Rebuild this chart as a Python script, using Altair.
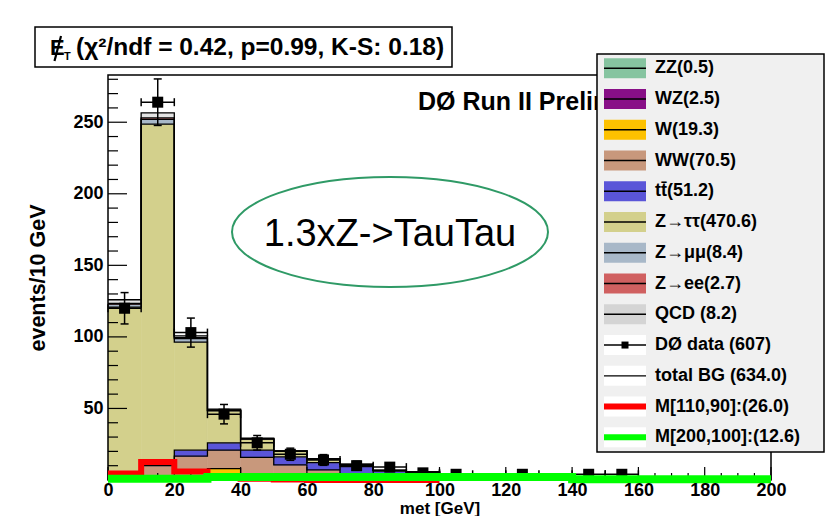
import math
import altair as alt
import pandas as pd

# ---------------- data ----------------
bin_edges = [0, 10, 20, 30, 40, 50, 60, 70, 80, 90, 100, 110, 120, 130, 140, 150, 160, 170, 180, 190, 200]

components = ["ZZ", "WZ", "W", "WW", "ttbar", "Ztautau", "Zmumu", "Zee", "QCD"]
zz    = [0.0, 0.0, 0.05, 0.1, 0.1, 0.1, 0.05, 0.05, 0.03, 0.02, 0.0, 0.0, 0.0, 0.0, 0.0, 0.0, 0.0, 0.0, 0.0, 0.0]
wz    = [0.05, 0.1, 0.3, 0.4, 0.4, 0.4, 0.3, 0.2, 0.15, 0.1, 0.05, 0.05, 0.0, 0.0, 0.0, 0.0, 0.0, 0.0, 0.0, 0.0]
w     = [0.5, 0.5, 2.0, 7.5, 3.0, 2.0, 1.5, 1.0, 0.8, 0.5, 0.0, 0.0, 0.0, 0.0, 0.0, 0.0, 0.0, 0.0, 0.0, 0.0]
ww    = [1.0, 9.4, 14.3, 12.9, 12.3, 8.0, 5.2, 2.3, 1.5, 1.0, 0.8, 0.5, 0.4, 0.3, 0.2, 0.1, 0.0, 0.0, 0.0, 0.0]
ttbar = [0.2, 0.5, 4.2, 5.1, 5.1, 5.7, 5.1, 5.8, 3.8, 3.6, 2.5, 2.0, 1.5, 1.2, 1.0, 0.8, 0.6, 0.5, 0.4, 0.3]
ztt   = [119.1, 238.2, 75.5, 22.3, 7.6, 3.9, 2.6, 1.5, 0.5, 0.5, 0.8, 0.3, 0.2, 0.1, 0.1, 0.0, 0.0, 0.0, 0.0, 0.0]
zmm   = [2.0, 3.3, 2.5, 0.4, 0.2, 0.0, 0.0, 0.0, 0.0, 0.0, 0.0, 0.0, 0.0, 0.0, 0.0, 0.0, 0.0, 0.0, 0.0, 0.0]
zee   = [0.6, 1.0, 0.6, 0.3, 0.2, 0.0, 0.0, 0.0, 0.0, 0.0, 0.0, 0.0, 0.0, 0.0, 0.0, 0.0, 0.0, 0.0, 0.0, 0.0]
qcd   = [2.5, 3.5, 1.2, 0.5, 0.3, 0.2, 0.0, 0.0, 0.0, 0.0, 0.0, 0.0, 0.0, 0.0, 0.0, 0.0, 0.0, 0.0, 0.0, 0.0]

data_counts = [120, 264, 103, 46, 26, 18, 14, 10, 9, 5, 4, 0, 4, 0, 4, 4, 0, 0, 0, 0]

sig_m110_90 = [4.5, 12.5, 6.0, 1.5, 0.8, 0.3, 0.0, 0.0, 0.0, 0.0]
sig_m200_100 = [0.8, 0.8, 0.8, 2.1, 2.1, 2.1, 2.1, 2.1, 2.1, 2.1, 2.1, 2.1, 2.1, 2.1, 0.6, 0.6, 0.6, 0.6, 0.6, 0.6]

x_tick_labels = [0, 20, 40, 60, 80, 100, 120, 140, 160, 180, 200]
y_tick_labels = [50, 100, 150, 200, 250]

legend_labels = ["ZZ(0.5)", "WZ(2.5)", "W(19.3)", "WW(70.5)", "tt\u0304(51.2)",
                 "Z\u2192\u03c4\u03c4(470.6)", "Z\u2192\u03bc\u03bc(8.4)", "Z\u2192ee(2.7)",
                 "QCD (8.2)", "D\u00d8 data (607)", "total BG (634.0)",
                 "M[110,90]:(26.0)", "M[200,100]:(12.6)"]

# ---------------- styles ----------------
comp_colors = ["#86c4a0", "#880f87", "#fdc100", "#c8987c", "#5a55d8",
               "#d3d08c", "#a8b8c8", "#d06060", "#e4e4e4"]
FONT = "Liberation Sans"
W, H = 663, 405
YMAX = 283.0

xscale = alt.Scale(domain=[0, 200], nice=False, zero=False)
yscale = alt.Scale(domain=[0, YMAX], nice=False, zero=False)
xaxis = alt.Axis(values=x_tick_labels, title="met [GeV]", ticks=False, tickSize=0, domain=False,
                 grid=False, labelFont=FONT, labelFontWeight="bold", labelFontSize=18,
                 labelColor="black", labelPadding=1, labelFlush=False, labelOverlap=False,
                 titleFont=FONT, titleFontWeight="bold", titleFontSize=17, titleColor="black",
                 titleX=W / 2, titleY=28, titleBaseline="middle", titleAlign="center", zindex=1)
yaxis = alt.Axis(values=y_tick_labels, title="events/10 GeV", ticks=False, tickSize=0, domain=False,
                 grid=False, labelFont=FONT, labelFontWeight="bold", labelFontSize=18,
                 labelColor="black", labelPadding=5, labelFlush=False, labelOverlap=False,
                 titleFont=FONT, titleFontWeight="bold", titleFontSize=21.5, titleColor="black",
                 titleX=-70, titleY=H / 2, titleAngle=270, titleBaseline="middle",
                 titleAlign="center", zindex=1)


def X(f):
    return alt.X(f, type="quantitative", scale=xscale, axis=xaxis)


def Y(f):
    return alt.Y(f, type="quantitative", scale=yscale, axis=yaxis)


def yv(px):
    """pixel (from plot top) -> y data units (for legend layout)"""
    return (H - px) / H * YMAX


one = pd.DataFrame({"d": [0]})

# ---------------- build tables ----------------
comp_vals = [zz, wz, w, ww, ttbar, ztt, zmm, zee, qcd]
nb = len(bin_edges) - 1
rects, steps = [], []
cum = [0.0] * nb
for name, vals, col in zip(components, comp_vals, comp_colors):
    new = [c + v for c, v in zip(cum, vals)]
    for i in range(nb):
        if vals[i] > 0:
            rects.append(dict(lo=bin_edges[i], hi=bin_edges[i + 1], y0=cum[i], y1=new[i], col=col))
    for i in range(nb):
        steps.append(dict(comp=name, x=bin_edges[i], v=new[i]))
    steps.append(dict(comp=name, x=bin_edges[nb], v=new[nb - 1]))
    cum = new
rect_df = pd.DataFrame(rects)
step_df = pd.DataFrame(steps)

pts = []
for i, n in enumerate(data_counts):
    if n > 0:
        e = math.sqrt(n)
        pts.append(dict(c=(bin_edges[i] + bin_edges[i + 1]) / 2, x0=bin_edges[i], x1=bin_edges[i + 1],
                        n=n, elo=n - e, ehi=n + e))
pts_df = pd.DataFrame(pts)

red_df = pd.DataFrame({"x": bin_edges[:len(sig_m110_90) + 1], "v": sig_m110_90 + [sig_m110_90[-1]]})
green_df = pd.DataFrame({"x": bin_edges, "v": sig_m200_100 + [sig_m200_100[-1]]})

y_major = pd.DataFrame({"v": [0, 50, 100, 150, 200, 250]})
y_minor = pd.DataFrame({"v": [v for v in range(10, 281, 10) if v % 50]})
x_major = pd.DataFrame({"v": list(range(0, 201, 20))})
x_minor = pd.DataFrame({"v": [v for v in range(5, 200, 5) if v % 20]})

# legend table
sw_fill = comp_colors[:8] + ["#d4d4d4"] + ["white"] * 4
ln_col = ["black"] * 11 + ["#ff0000", "#00ff00"]
ln_w = [1.5] * 10 + [1.2, 6, 6]
leg = []
for i, lab in enumerate(legend_labels):
    yc = -6.7 + 30.75 * i
    leg.append(dict(label=lab, yc=yv(yc), yt=yv(yc - 10), yb=yv(yc + 10),
                    fill=sw_fill[i], lcol=ln_col[i], lw=ln_w[i]))
leg_df = pd.DataFrame(leg)

# ---------------- layers ----------------
layers = []

# stacked background histograms
layers.append(alt.Chart(rect_df).mark_rect(strokeWidth=0.6).encode(
    x=X("lo"), x2=alt.X2("hi"), y=Y("y0"), y2=alt.Y2("y1"),
    fill=alt.Fill("col:N", scale=None), stroke=alt.Stroke("col:N", scale=None)))
layers.append(alt.Chart(step_df).mark_line(interpolate="step-after", color="black", strokeWidth=1.3).encode(
    x=X("x"), y=Y("v"), detail="comp:N"))

# data with error bars
layers.append(alt.Chart(pts_df).mark_rule(color="black", strokeWidth=1.5).encode(
    x=X("c"), y=Y("elo"), y2=alt.Y2("ehi")))
layers.append(alt.Chart(pts_df).mark_rule(color="black", strokeWidth=1.5).encode(
    x=X("x0"), x2=alt.X2("x1"), y=Y("n")))
for f in ["elo", "ehi"]:
    layers.append(alt.Chart(pts_df).mark_tick(orient="horizontal", size=8, thickness=1.5, color="black",
                                              opacity=1).encode(x=X("c"), y=Y(f)))
for f in ["x0", "x1"]:
    layers.append(alt.Chart(pts_df).mark_tick(orient="vertical", size=8, thickness=1.5, color="black",
                                              opacity=1).encode(x=X(f), y=Y("n")))
layers.append(alt.Chart(pts_df).mark_square(size=121, color="black", opacity=1).encode(x=X("c"), y=Y("n")))

# inward ticks
layers.append(alt.Chart(y_major).mark_rule(color="black", strokeWidth=1.2).encode(
    y=Y("v"), x=alt.value(0), x2=alt.value(19)))
layers.append(alt.Chart(y_minor).mark_rule(color="black", strokeWidth=1.2).encode(
    y=Y("v"), x=alt.value(0), x2=alt.value(10)))
layers.append(alt.Chart(x_major).mark_rule(color="black", strokeWidth=1.2).encode(
    x=X("v"), y=alt.value(H), y2=alt.value(H - 13)))
layers.append(alt.Chart(x_minor).mark_rule(color="black", strokeWidth=1.2).encode(
    x=X("v"), y=alt.value(H), y2=alt.value(H - 7)))

# frame
layers.append(alt.Chart(one).mark_rect(fillOpacity=0, stroke="black", strokeWidth=1.5).encode(
    x=alt.value(0), x2=alt.value(W), y=alt.value(0), y2=alt.value(H)))

# signal curves
layers.append(alt.Chart(red_df).mark_line(interpolate="step-after", color="#ff0000", strokeWidth=6).encode(
    x=X("x"), y=Y("v")))
layers.append(alt.Chart(green_df).mark_line(interpolate="step-after", color="#00ff00", strokeWidth=8).encode(
    x=X("x"), y=Y("v")))

# annotations
ry = 0.348
k = 0.5523
ell = (f"M -1 0 C -1 {-k*ry:.4f} {-k:.4f} {-ry} 0 {-ry} C {k:.4f} {-ry} 1 {-k*ry:.4f} 1 0 "
       f"C 1 {k*ry:.4f} {k:.4f} {ry} 0 {ry} C {-k:.4f} {ry} -1 {k*ry:.4f} -1 0 Z")
layers.append(alt.Chart(one).mark_point(shape=ell, size=316 ** 2, filled=False, stroke="#2f9a66",
                                        strokeWidth=2, opacity=1).encode(
    x=alt.value(282), y=alt.value(157)))
layers.append(alt.Chart(one).mark_text(text="1.3xZ->TauTau", font=FONT, fontSize=38, align="center",
                                       baseline="alphabetic", color="black").encode(
    x=alt.value(282), y=alt.value(171)))
layers.append(alt.Chart(one).mark_text(text="D\u00d8 Run II Preliminary", font=FONT, fontSize=25,
                                       fontWeight="bold", align="left", baseline="alphabetic",
                                       color="black").encode(x=alt.value(310), y=alt.value(35)))

# title box
layers.append(alt.Chart(one).mark_rect(fill="white", stroke="black", strokeWidth=1.5).encode(
    x=alt.value(-73), x2=alt.value(344), y=alt.value(-48), y2=alt.value(-8)))
layers.append(alt.Chart(one).mark_text(text="E", font=FONT, fontSize=22, fontWeight="bold", align="left",
                                       baseline="alphabetic", color="black").encode(
    x=alt.value(-58), y=alt.value(-20)))
layers.append(alt.Chart(one).mark_rule(color="black", strokeWidth=2.2).encode(
    x=alt.value(-53.5), x2=alt.value(-47), y=alt.value(-14), y2=alt.value(-39)))
layers.append(alt.Chart(one).mark_text(text="T", font=FONT, fontSize=11, fontWeight="bold", align="left",
                                       baseline="alphabetic", color="black").encode(
    x=alt.value(-44), y=alt.value(-15)))
layers.append(alt.Chart(one).mark_text(text="(\u03c7\u00b2/ndf = 0.42, p=0.99, K-S: 0.18)", font=FONT,
                                       fontSize=24.5, fontWeight="bold", align="left",
                                       baseline="alphabetic", color="black").encode(
    x=alt.value(-32), y=alt.value(-20)))

# legend
layers.append(alt.Chart(one).mark_rect(fill="#f0f0f0", stroke="black", strokeWidth=1.5).encode(
    x=alt.value(489), x2=alt.value(716), y=alt.value(-21), y2=alt.value(377)))
layers.append(alt.Chart(leg_df).mark_rect().encode(
    x=alt.value(496), x2=alt.value(538), y=Y("yt"), y2=alt.Y2("yb"),
    fill=alt.Fill("fill:N", scale=None)))
layers.append(alt.Chart(leg_df).mark_rule().encode(
    x=alt.value(496), x2=alt.value(538), y=Y("yc"),
    stroke=alt.Stroke("lcol:N", scale=None), strokeWidth=alt.StrokeWidth("lw:Q", scale=None)))
layers.append(alt.Chart(leg_df[leg_df["label"].str.contains("data")]).mark_square(
    size=49, color="black", opacity=1).encode(x=alt.value(517), y=Y("yc")))
layers.append(alt.Chart(leg_df).mark_text(font=FONT, fontSize=18, fontWeight="bold", align="left",
                                          baseline="middle", color="black").encode(
    x=alt.value(547), y=Y("yc"), text="label:N"))

chart = alt.layer(*layers).properties(
    width=W, height=H,
    padding={"left": 100, "top": 67, "right": 55, "bottom": 36},
    autosize=alt.AutoSizeParams(type="none"),
    background="white",
).configure_view(stroke="transparent")

chart.save("out.html", embed_options={"renderer": "svg", "actions": False})
